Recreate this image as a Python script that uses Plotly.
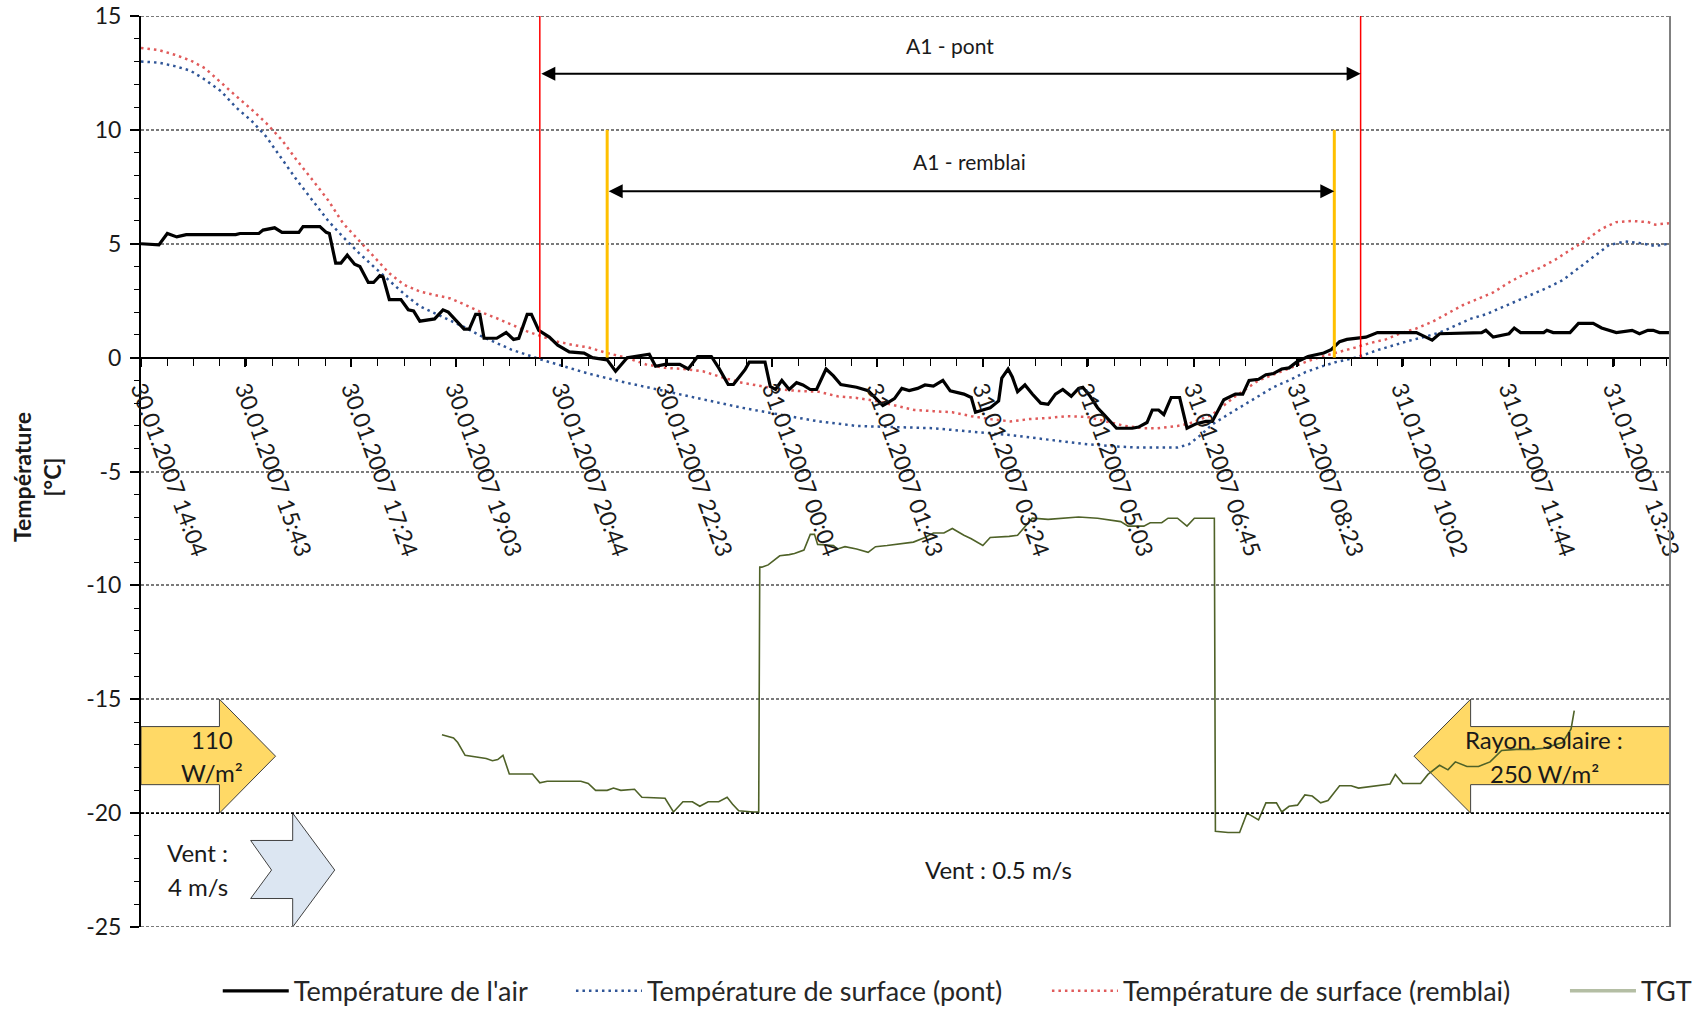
import pandas as pd
import plotly.graph_objects as go

# ---------------- data ----------------
START = "2007-01-30 14:04"

air_min = [0, 17, 25, 34, 43, 90, 94, 112, 116, 127, 134, 150, 154, 170, 176, 179, 185, 190, 196, 203,
           208, 216, 221, 227, 230, 236, 247, 254, 259, 265, 279, 287, 292, 299, 307, 312, 318, 322, 326, 338,
           347, 354, 359, 367, 371, 378, 388, 396, 403, 407, 421, 429, 443, 451, 462, 476, 483, 489, 498, 512,
           520, 529, 542, 549, 558, 563, 574, 578, 593, 598, 603, 609, 616, 623, 629, 636, 642, 651, 658, 665,
           680, 691, 698, 705, 709, 716, 723, 730, 738, 745, 753, 762, 769, 782, 789, 793, 800, 807, 815, 818,
           824, 828, 833, 840, 847, 855, 862, 869, 876, 884, 891, 895, 902, 909, 916, 927, 942, 948, 956, 961,
           967, 972, 979, 987, 994, 1003, 1012, 1018, 1029, 1040, 1047, 1053, 1062, 1069, 1076, 1084, 1091, 1098,
           1109, 1124, 1131, 1139, 1146, 1164, 1175, 1212, 1221, 1227, 1234, 1274, 1278, 1285, 1300, 1305, 1311,
           1333, 1336, 1342, 1358, 1366, 1380, 1388, 1402, 1409, 1417, 1424, 1432, 1437, 1443, 1452]
air_val = [5.0, 4.95, 5.45, 5.3, 5.4, 5.4, 5.45, 5.45, 5.6, 5.7, 5.5, 5.5, 5.75, 5.75, 5.5, 5.45, 4.15, 4.15, 4.5, 4.1,
           4.0, 3.3, 3.3, 3.6, 3.55, 2.55, 2.55, 2.1, 2.05, 1.6, 1.7, 2.1, 2.0, 1.65, 1.25, 1.25, 1.9, 1.9, 0.85, 0.85,
           1.1, 0.8, 0.85, 1.9, 1.9, 1.2, 0.9, 0.55, 0.35, 0.25, 0.2, 0.0, -0.1, -0.6, 0.0, 0.1, 0.15, -0.38, -0.3, -0.3,
           -0.5, 0.05, 0.05, -0.45, -1.18, -1.18, -0.53, -0.2, -0.2, -1.27, -1.4, -1.0, -1.4, -1.1, -1.2, -1.4, -1.4, -0.5, -0.8, -1.18,
           -1.3, -1.45, -1.8, -2.1, -2.0, -1.8, -1.35, -1.45, -1.35, -1.2, -1.25, -1.0, -1.46, -1.6, -1.75, -2.4, -2.3, -2.2, -1.9, -0.9,
           -0.5, -0.85, -1.5, -1.2, -1.6, -2.0, -2.05, -1.6, -1.4, -1.7, -1.35, -1.3, -1.7, -2.2, -2.55, -3.1, -3.1, -3.05, -2.85, -2.3,
           -2.3, -2.5, -1.75, -1.75, -3.1, -2.9, -2.8, -2.8, -1.85, -1.6, -1.6, -1.0, -0.95, -0.75, -0.7, -0.5, -0.45, -0.2,
           0.05, 0.2, 0.35, 0.7, 0.8, 0.9, 1.1, 1.1, 0.9, 0.77, 1.05, 1.1, 1.2, 0.9, 1.05, 1.3, 1.1,
           1.1, 1.2, 1.1, 1.1, 1.5, 1.5, 1.3, 1.1, 1.15, 1.2, 1.05, 1.2, 1.2, 1.1, 1.1]

pont_min = [0, 17, 32, 47, 61, 76, 90, 105, 119, 134, 148, 163, 178, 192, 207, 221, 236, 250, 265, 279,
            294, 309, 323, 338, 352, 367, 381, 396, 410, 425, 461, 498, 534, 571, 607, 644, 680, 716, 753, 789,
            826, 862, 899, 926, 948, 985, 996, 1007, 1018, 1033, 1047, 1062, 1076, 1091, 1106, 1120, 1135, 1150, 1161, 1175,
            1190, 1205, 1219, 1234, 1249, 1263, 1278, 1293, 1307, 1322, 1336, 1351, 1366, 1380, 1395, 1410, 1424, 1439, 1452]
pont_val = [13.0, 12.95, 12.8, 12.6, 12.2, 11.7, 11.0, 10.4, 9.7, 8.7, 7.8, 6.9, 6.0, 5.3, 4.6, 4.0, 3.4, 2.8, 2.25, 1.95,
            1.65, 1.3, 0.95, 0.65, 0.35, 0.12, -0.1, -0.3, -0.5, -0.7, -1.1, -1.47, -1.84, -2.2, -2.5, -2.8, -3.0, -3.05, -3.1, -3.25,
            -3.4, -3.6, -3.8, -3.9, -3.95, -3.95, -3.8, -3.4, -2.93, -2.5, -2.1, -1.68, -1.3, -1.0, -0.65, -0.42, -0.2, -0.05, 0.1, 0.33,
            0.55, 0.74, 0.9, 1.1, 1.4, 1.7, 1.9, 2.2, 2.5, 2.77, 3.06, 3.4, 3.92, 4.43, 4.94, 5.1, 5.03, 4.9, 5.0]

remblai_min = [0, 17, 32, 47, 61, 76, 90, 105, 119, 134, 148, 163, 178, 192, 207, 221, 236, 250, 265, 279,
               294, 309, 323, 338, 352, 367, 381, 396, 410, 425, 443, 461, 480, 498, 516, 534, 553, 571, 589, 608,
               626, 644, 662, 680, 698, 716, 735, 753, 771, 789, 807, 826, 844, 862, 880, 899, 917, 935, 953, 966,
               985, 996, 1007, 1018, 1029, 1040, 1051, 1062, 1073, 1084, 1095, 1109, 1124, 1139, 1153, 1168, 1183, 1197, 1212, 1227,
               1241, 1256, 1270, 1285, 1300, 1314, 1329, 1344, 1358, 1373, 1388, 1402, 1417, 1432, 1439, 1452]
remblai_val = [13.6, 13.5, 13.3, 13.05, 12.7, 12.07, 11.5, 10.9, 10.3, 9.55, 8.67, 7.8, 6.9, 5.9, 5.15, 4.43, 3.7, 3.2, 2.9, 2.75,
               2.6, 2.3, 2.0, 1.73, 1.44, 1.15, 0.93, 0.7, 0.56, 0.45, 0.2, 0.0, -0.3, -0.45, -0.5, -0.6, -0.88, -1.1, -1.25, -1.4,
               -1.47, -1.5, -1.7, -1.77, -1.9, -2.1, -2.3, -2.35, -2.4, -2.57, -2.7, -2.8, -2.7, -2.65, -2.57, -2.6, -2.8, -3.0, -3.1, -3.1,
               -3.0, -2.9, -2.7, -2.5, -2.1, -1.7, -1.35, -1.0, -0.8, -0.6, -0.38, -0.15, 0.07, 0.25, 0.43, 0.64, 0.8, 1.07, 1.28, 1.57,
               1.93, 2.3, 2.57, 2.86, 3.3, 3.65, 3.93, 4.3, 4.72, 5.15, 5.66, 5.95, 6.0, 5.95, 5.84, 5.9]

tgt_min = [286, 297, 301, 308, 328, 334, 339, 344, 350, 372, 379, 386, 418, 425, 432, 443, 449, 456, 469, 476,
           498, 506, 515, 524, 531, 539, 549, 557, 562, 568, 582, 587, 588, 590, 596, 607, 616, 621, 630, 636,
           640, 643, 658, 662, 669, 680, 691, 698, 709, 734, 745, 753, 763, 771, 782, 789, 800, 807, 825, 833,
           847, 862, 891, 909, 931, 938, 953, 959, 970, 976, 985, 990, 994, 1001, 1020, 1021, 1033, 1044, 1051, 1062,
           1069, 1079, 1084, 1091, 1099, 1106, 1113, 1121, 1128, 1139, 1150, 1157, 1179, 1187, 1192, 1199, 1216, 1223, 1234, 1242,
           1249, 1260, 1271, 1282, 1293, 1307, 1322, 1333, 1351, 1359, 1362]
tgt_val = [-16.56, -16.7, -16.9, -17.46, -17.6, -17.7, -17.65, -17.46, -18.28, -18.28, -18.67, -18.6, -18.6, -18.7, -19.0, -19.0, -18.9, -19.0, -18.95, -19.3,
           -19.35, -19.95, -19.5, -19.5, -19.7, -19.5, -19.5, -19.3, -19.6, -19.9, -19.95, -19.95, -9.2, -9.2, -9.1, -8.7, -8.65, -8.6, -8.45, -7.76,
           -7.76, -8.2, -8.25, -8.4, -8.3, -8.4, -8.55, -8.3, -8.25, -8.1, -7.9, -7.7, -7.7, -7.5, -7.8, -7.95, -8.25, -7.9, -7.85, -7.8,
           -7.05, -7.1, -7.0, -7.05, -7.2, -7.4, -7.4, -7.25, -7.25, -7.05, -7.05, -7.25, -7.4, -7.05, -7.05, -20.8, -20.85, -20.85, -20.0, -20.3,
           -19.55, -19.55, -19.95, -19.7, -19.65, -19.2, -19.25, -19.55, -19.45, -18.8, -18.8, -18.9, -18.75, -18.72, -18.3, -18.7, -18.7, -18.3, -17.9, -18.1,
           -17.75, -17.95, -17.95, -17.75, -17.25, -17.2, -17.2, -17.15, -16.9, -16.3, -15.5]

tick_labels = ["30.01.2007 14:04", "30.01.2007 15:43", "30.01.2007 17:24", "30.01.2007 19:03",
               "30.01.2007 20:44", "30.01.2007 22:23", "31.01.2007 00:04", "31.01.2007 01:43",
               "31.01.2007 03:24", "31.01.2007 05:03", "31.01.2007 06:45", "31.01.2007 08:23",
               "31.01.2007 10:02", "31.01.2007 11:44", "31.01.2007 13:23"]
y_ticks = [-25, -20, -15, -10, -5, 0, 5, 10, 15]

x_end_min = 1453
pont_limits = ["2007-01-30 20:23", "2007-01-31 09:23"]
remblai_limits = ["2007-01-30 21:27", "2007-01-31 08:58"]

# ---------------- helpers ----------------
t0 = pd.Timestamp(START)


def to_time(mins):
    return t0 + pd.to_timedelta(mins, unit="min")


tickvals = pd.to_datetime(tick_labels, format="%d.%m.%Y %H:%M")
x_range = [t0, to_time(x_end_min)]

FONT = "Lato, 'Open Sans', sans-serif"
TXT = "#1a1a1a"
BLUE = "#2f5597"
RED = "#e05a5a"
GREEN = "#4f6228"
GRID = "#7a7a7a"

fig = go.Figure()
fig.add_trace(go.Scatter(x=to_time(pont_min), y=pont_val, mode="lines", name="Température de surface (pont)",
                         line=dict(color=BLUE, width=2.5, dash="2.5px,4px"), legend="legend2"))
fig.add_trace(go.Scatter(x=to_time(remblai_min), y=remblai_val, mode="lines", name="Température de surface (remblai)",
                         line=dict(color=RED, width=2.5, dash="2.5px,4px"), legend="legend3"))
fig.add_trace(go.Scatter(x=to_time(tgt_min), y=tgt_val, mode="lines", name="TGT", showlegend=False,
                         line=dict(color=GREEN, width=1.6)))
fig.add_trace(go.Scatter(x=[None], y=[None], mode="lines", name="TGT",
                         line=dict(color="#b4bea4", width=3.5), legend="legend4"))
fig.add_trace(go.Scatter(x=to_time(air_min), y=air_val, mode="lines", name="Température de l'air",
                         line=dict(color="black", width=3.2), legend="legend"))

# ---------------- axes ----------------
y0_pos = (0 - (-25)) / (15 - (-25))
leg_common = dict(orientation="h", xanchor="left", y=-0.0975, yanchor="bottom",
                  font=dict(size=27, color="#262626"), itemwidth=66, bgcolor="rgba(0,0,0,0)")
fig.update_layout(
    width=1704, height=1016,
    margin=dict(l=141, r=34, t=16, b=89, autoexpand=False),
    plot_bgcolor="white", paper_bgcolor="white",
    font=dict(family=FONT, size=23, color=TXT),
    xaxis=dict(type="date", range=x_range, anchor="free", position=y0_pos,
               tickmode="array", tickvals=tickvals, ticktext=tick_labels, tickangle=70,
               ticks="outside", ticklen=8, tickwidth=1.5, tickcolor="black",
               minor=dict(ticks="outside", ticklen=7, tickwidth=1.2, tickcolor="black",
                          tick0=t0, dtick=25 * 60 * 1000, showgrid=False),
               showline=True, linecolor="black", linewidth=2, showgrid=False, zeroline=False,
               tickfont=dict(size=23, color=TXT)),
    xaxis2=dict(type="date", overlaying="x", matches="x", anchor="free", position=y0_pos,
                tickmode="array", tickvals=tickvals, showticklabels=False,
                ticks="inside", ticklen=7, tickwidth=1.5, tickcolor="black",
                minor=dict(ticks="inside", ticklen=6, tickwidth=1.2, tickcolor="black",
                           tick0=t0, dtick=25 * 60 * 1000, showgrid=False),
                showline=False, showgrid=False, zeroline=False),
    yaxis=dict(range=[-25, 15], tickmode="array", tickvals=y_ticks, ticktext=[str(v) for v in y_ticks],
               ticks="outside", ticklen=9, tickwidth=1.5, tickcolor="black",
               minor=dict(ticks="outside", ticklen=5, tickwidth=1.2, tickcolor="black", dtick=1, showgrid=False),
               showline=True, linecolor="black", linewidth=2, zeroline=False,
               showgrid=True, gridcolor=GRID, gridwidth=2, griddash="3px,2px",
               ticklabelstandoff=4, tickfont=dict(size=23, color=TXT)),
    yaxis2=dict(range=[-25, 15], overlaying="y", matches="y", anchor="free", position=0, side="left",
                tickmode="linear", tick0=-25, dtick=5, showticklabels=False,
                ticks="inside", ticklen=5, tickwidth=1.2, tickcolor="black",
                minor=dict(ticks="inside", ticklen=5, tickwidth=1.2, tickcolor="black", dtick=1, showgrid=False),
                showline=False, showgrid=False, zeroline=False),
    legend=dict(x=0.0502, **leg_common),
    legend2=dict(x=0.2812, **leg_common),
    legend3=dict(x=0.5925, **leg_common),
    legend4=dict(x=0.9313, **leg_common),
)

# ---------------- shapes ----------------
shapes = []
# frame: top and bottom dashed edges, right solid border
for yv in (15, -25):
    shapes.append(dict(type="line", xref="paper", yref="y", x0=0, x1=1, y0=yv, y1=yv,
                       line=dict(color=GRID, width=2, dash="3px,2px")))
shapes.append(dict(type="line", xref="paper", yref="y", x0=1, x1=1, y0=-25, y1=15,
                   line=dict(color="#808080", width=2)))
# dark dashed line at -20
shapes.append(dict(type="line", xref="paper", yref="y", x0=0, x1=1, y0=-20, y1=-20,
                   line=dict(color="black", width=1.5, dash="3px,2px")))
# limits
for xv in pont_limits:
    shapes.append(dict(type="line", xref="x", yref="y", x0=xv, x1=xv, y0=0, y1=15,
                       line=dict(color="#ff0000", width=1.5)))
for xv in remblai_limits:
    shapes.append(dict(type="line", xref="x", yref="y", x0=xv, x1=xv, y0=0, y1=10,
                       line=dict(color="#ffc000", width=3)))
# block arrows (decorations)
shapes.append(dict(type="path", xref="paper", yref="y", layer="between",
                   path="M 0,-16.2 L 0.0513,-16.2 L 0.0513,-15 L 0.0880,-17.5 L 0.0513,-20 L 0.0513,-18.75 L 0,-18.75 Z",
                   fillcolor="#ffd966", line=dict(color="#404040", width=1)))
shapes.append(dict(type="path", xref="paper", yref="y", layer="between",
                   path="M 1,-16.2 L 0.8696,-16.2 L 0.8696,-15 L 0.8326,-17.5 L 0.8696,-20 L 0.8696,-18.75 L 1,-18.75 Z",
                   fillcolor="#ffd966", line=dict(color="#404040", width=1)))
shapes.append(dict(type="path", xref="paper", yref="y", layer="between",
                   path="M 0.0717,-21.2 L 0.0992,-21.2 L 0.0992,-20 L 0.1267,-22.5 L 0.0992,-25 L 0.0992,-23.75 L 0.0717,-23.75 L 0.0854,-22.5 Z",
                   fillcolor="#dce6f2", line=dict(color="#404040", width=1)))
fig.update_layout(shapes=shapes)

# ---------------- annotations ----------------
ann = []
ann.append(dict(x=pont_limits[1], y=12.46, ax=pont_limits[0], ay=12.46, xref="x", yref="y", axref="x", ayref="y",
                text="", showarrow=True, arrowhead=2, startarrowhead=2, arrowside="end+start",
                arrowsize=1.4, startarrowsize=1.4, arrowwidth=2, arrowcolor="black"))
ann.append(dict(x=remblai_limits[1], y=7.3, ax=remblai_limits[0], ay=7.3, xref="x", yref="y", axref="x", ayref="y",
                text="", showarrow=True, arrowhead=2, startarrowhead=2, arrowside="end+start",
                arrowsize=1.4, startarrowsize=1.4, arrowwidth=2, arrowcolor="black"))


def label(text, x, y, size=24, xref="paper", yref="y"):
    return dict(text=text, x=x, y=y, xref=xref, yref=yref, showarrow=False,
                xanchor="center", yanchor="middle", font=dict(size=size, family=FONT, color=TXT))


ann.append(label("A1 - pont", 0.529, 13.7, 21))
ann.append(label("A1 - remblai", 0.5418, 8.6, 21))
ann.append(label("Vent : 0.5 m/s", 0.561, -22.46, 24))
ann.append(label("Vent :", 0.0371, -21.75, 24))
ann.append(label("4 m/s", 0.0371, -23.2, 24))
ann.append(label("110", 0.0464, -16.75, 24))
ann.append(label("W/m²", 0.0464, -18.2, 24))
ann.append(label("Rayon. solaire :", 0.9177, -16.78, 24))
ann.append(label("250 W/m²", 0.9177, -18.25, 24))
ann.append(dict(text="<b>Température<br>[°C]</b>", x=-0.068, y=0.494, xref="paper", yref="paper",
                showarrow=False, textangle=-90, xanchor="center", yanchor="middle",
                font=dict(size=23, family=FONT, color=TXT)))
fig.update_layout(annotations=ann)

fig.write_html("out.html")
